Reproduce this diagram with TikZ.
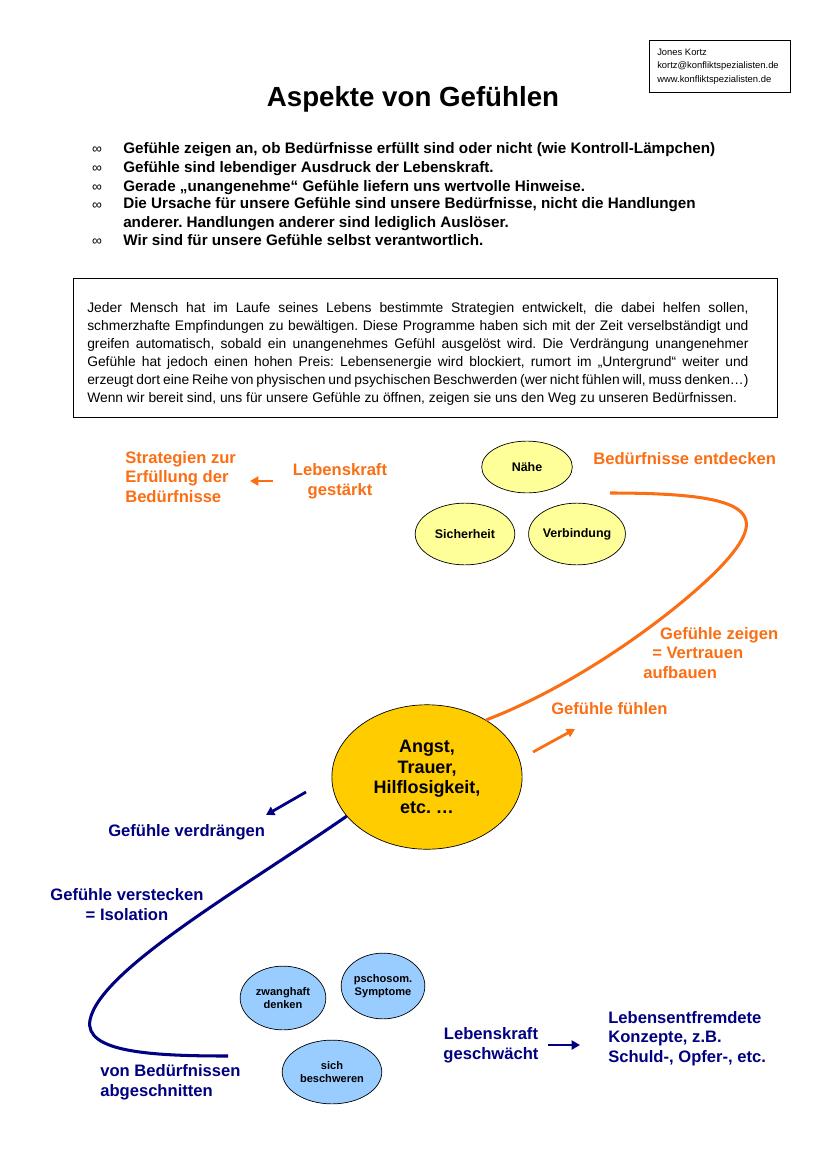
\documentclass[tikz,border=0pt]{standalone}
\usepackage{fontspec}
\setmainfont{Liberation Sans}
\usetikzlibrary{shapes.geometric,arrows.meta}

\definecolor{signal}{RGB}{250,110,20}
\definecolor{deepblue}{RGB}{0,0,128}
\definecolor{needyellow}{RGB}{255,255,153}
\definecolor{coreyellow}{RGB}{255,204,0}
\definecolor{harmblue}{RGB}{153,204,255}
\newcommand{\pxu}{0.72pt}
\frenchspacing

\tikzset{
  cue/.style={text=signal, inner sep=0pt, align=left, font=\fontsize{12}{14}\selectfont\bfseries},
  drift/.style={text=deepblue, inner sep=0pt, align=left, font=\fontsize{12}{14}\selectfont\bfseries},
  need/.style={ellipse, draw, line width=0.5pt, fill=needyellow, inner sep=0pt, font=\fontsize{9}{11}\selectfont\bfseries},
  harm/.style={ellipse, draw, line width=0.5pt, fill=harmblue, inner sep=0pt, align=center, font=\fontsize{8}{9.5}\selectfont\bfseries},
  aim/.style={anchor=base west, inner sep=0pt, align=left, font=\fontsize{11}{13.3}\selectfont\bfseries},
  dot/.style={anchor=base, inner sep=0pt, font=\fontsize{10}{11}\selectfont},
  warmpath/.style={draw=signal, line width=2.2pt},
  coldpath/.style={draw=deepblue, line width=2.2pt},
  warmarrow/.style={draw=signal, line width=2pt, -{Triangle[length=6pt,width=6.5pt]}},
  coldarrow/.style={draw=deepblue, line width=2pt, -{Triangle[length=6pt,width=6.5pt]}}
}

\begin{document}
\begin{tikzpicture}[x=0.0254cm, y=-0.0254cm]
\useasboundingbox (0,0) rectangle (826,1169);

% sender box (multi-line nodes sit on their last baseline)
\draw[line width=0.5pt] (649,40) rectangle (790,92);
\node[anchor=base west, inner sep=0pt, align=left, font=\fontsize{6.8}{9.4}\selectfont] (sender) at (657,82) {Jones Kortz\\kortz@konfliktspezialisten.de\\www.konfliktspezialisten.de};

\node[anchor=base, inner sep=0pt, font=\fontsize{20}{24}\selectfont\bfseries] (title) at (413,106) {Aspekte von Gefühlen};

% key points
\foreach \y in {153,172,191,209,245}
  \node[dot] (dot\y) at (97,\y) {∞};
\node[aim] (aim1) at (123,153) {Gefühle zeigen an, ob Bedürfnisse erfüllt sind oder nicht (wie Kontroll-Lämpchen)};
\node[aim] (aim2) at (123,172) {Gefühle sind lebendiger Ausdruck der Lebenskraft.};
\node[aim] (aim3) at (123,191) {Gerade „unangenehme“ Gefühle liefern uns wertvolle Hinweise.};
\node[aim] (aim4) at (123,227) {Die Ursache für unsere Gefühle sind unsere Bedürfnisse, nicht die Handlungen\\anderer. Handlungen anderer sind lediglich Auslöser.};
\node[aim] (aim5) at (123,245) {Wir sind für unsere Gefühle selbst verantwortlich.};

% text box
\draw[line width=0.6pt] (73,278) rectangle (777,417);
\node[anchor=base west, inner sep=0pt, text width=478pt, align=justify, font=\fontsize{10}{13.1}\selectfont] (story) at (87,312) {Jeder Mensch hat im Laufe seines Lebens bestimmte Strategien entwickelt, die dabei helfen sollen,\linebreak schmerzhafte Empfindungen zu bewältigen. Diese Programme haben sich mit der Zeit verselbständigt und\linebreak greifen automatisch, sobald ein unangenehmes Gefühl ausgelöst wird. Die Verdrängung unangenehmer\linebreak Gefühle hat jedoch einen hohen Preis: Lebensenergie wird blockiert, rumort im „Untergrund“ weiter und\linebreak erzeugt dort eine Reihe von physischen und psychischen Beschwerden (wer nicht fühlen will, muss denken…)\linebreak Wenn wir bereit sind, uns für unsere Gefühle zu öffnen, zeigen sie uns den Weg zu unseren Bedürfnissen.};

% needs
\node[need, minimum width=91*\pxu, minimum height=52*\pxu] (near) at (527,467) {Nähe};
\node[need, minimum width=100*\pxu, minimum height=62*\pxu] (safe) at (465,534) {Sicherheit};
\node[need, minimum width=91*\pxu, minimum height=62*\pxu] (bond) at (577,534) {Verbindung};

\node[cue, anchor=base west] (plan) at (125,502) {Strategien zur\\Erfüllung der\\Bedürfnisse};
\node[cue, anchor=base, align=center] (boost) at (340,495) {Lebenskraft\\gestärkt};
\node[cue, anchor=base west] (find) at (593,464) {Bedürfnisse entdecken};
\node[cue, anchor=base west] (show) at (643,678) {\hspace*{12.2pt}Gefühle zeigen\\\hspace*{6.5pt}= Vertrauen\\aufbauen};
\node[cue, anchor=base west] (feel) at (551,714) {Gefühle fühlen};

% feelings
\node[ellipse, draw, line width=0.5pt, fill=coreyellow, minimum width=191*\pxu, minimum height=145*\pxu, inner sep=0pt, align=center, font=\fontsize{13}{14.6}\selectfont\bfseries] (angst) at (427,777) {Angst,\\Trauer,\\Hilflosigkeit,\\etc. …};

\coordinate (reach) at (610,493);
\draw[warmpath] (angst.44) .. controls (590,680) and (692,599) .. (725,562) .. controls (772,510) and (745,493) .. (reach);

\coordinate (boostS) at (273,481);
\coordinate (boostE) at (250,481);
\draw[warmarrow] (boostS) -- (boostE);
\coordinate (feelS) at (533,752);
\coordinate (feelE) at (575,729);
\draw[warmarrow] (feelS) -- (feelE);

% suppression
\node[drift, anchor=base west] (push) at (108,836) {Gefühle verdrängen};
\node[drift, anchor=base, align=center] (hide) at (127,920) {Gefühle verstecken\\= Isolation};
\node[drift, anchor=base west] (cut) at (100,1096) {von Bedürfnissen\\abgeschnitten};
\node[drift, anchor=base, align=center] (weak) at (491,1059) {Lebenskraft\\geschwächt};
\node[drift, anchor=base west] (alien) at (608,1062) {Lebensentfremdete\\Konzepte, z.B.\\Schuld-, Opfer-, etc.};

\coordinate (cutoff) at (228,1056);
\draw[coldpath] (angst.206) .. controls (240,890) and (100,970) .. (90,1020) .. controls (84,1052) and (150,1056) .. (cutoff);

\coordinate (pushS) at (306,792);
\coordinate (pushE) at (266,815);
\draw[coldarrow] (pushS) -- (pushE);
\coordinate (weakS) at (548,1045);
\coordinate (weakE) at (580,1045);
\draw[coldarrow] (weakS) -- (weakE);

\node[harm, minimum width=86*\pxu, minimum height=64*\pxu] (obsess) at (283,998) {zwanghaft\\denken};
\node[harm, minimum width=84*\pxu, minimum height=66*\pxu] (soma) at (383,986) {pschosom.\\Symptome};
\node[harm, minimum width=100*\pxu, minimum height=64*\pxu] (moan) at (332,1072) {sich\\beschweren};
\end{tikzpicture}
\end{document}
